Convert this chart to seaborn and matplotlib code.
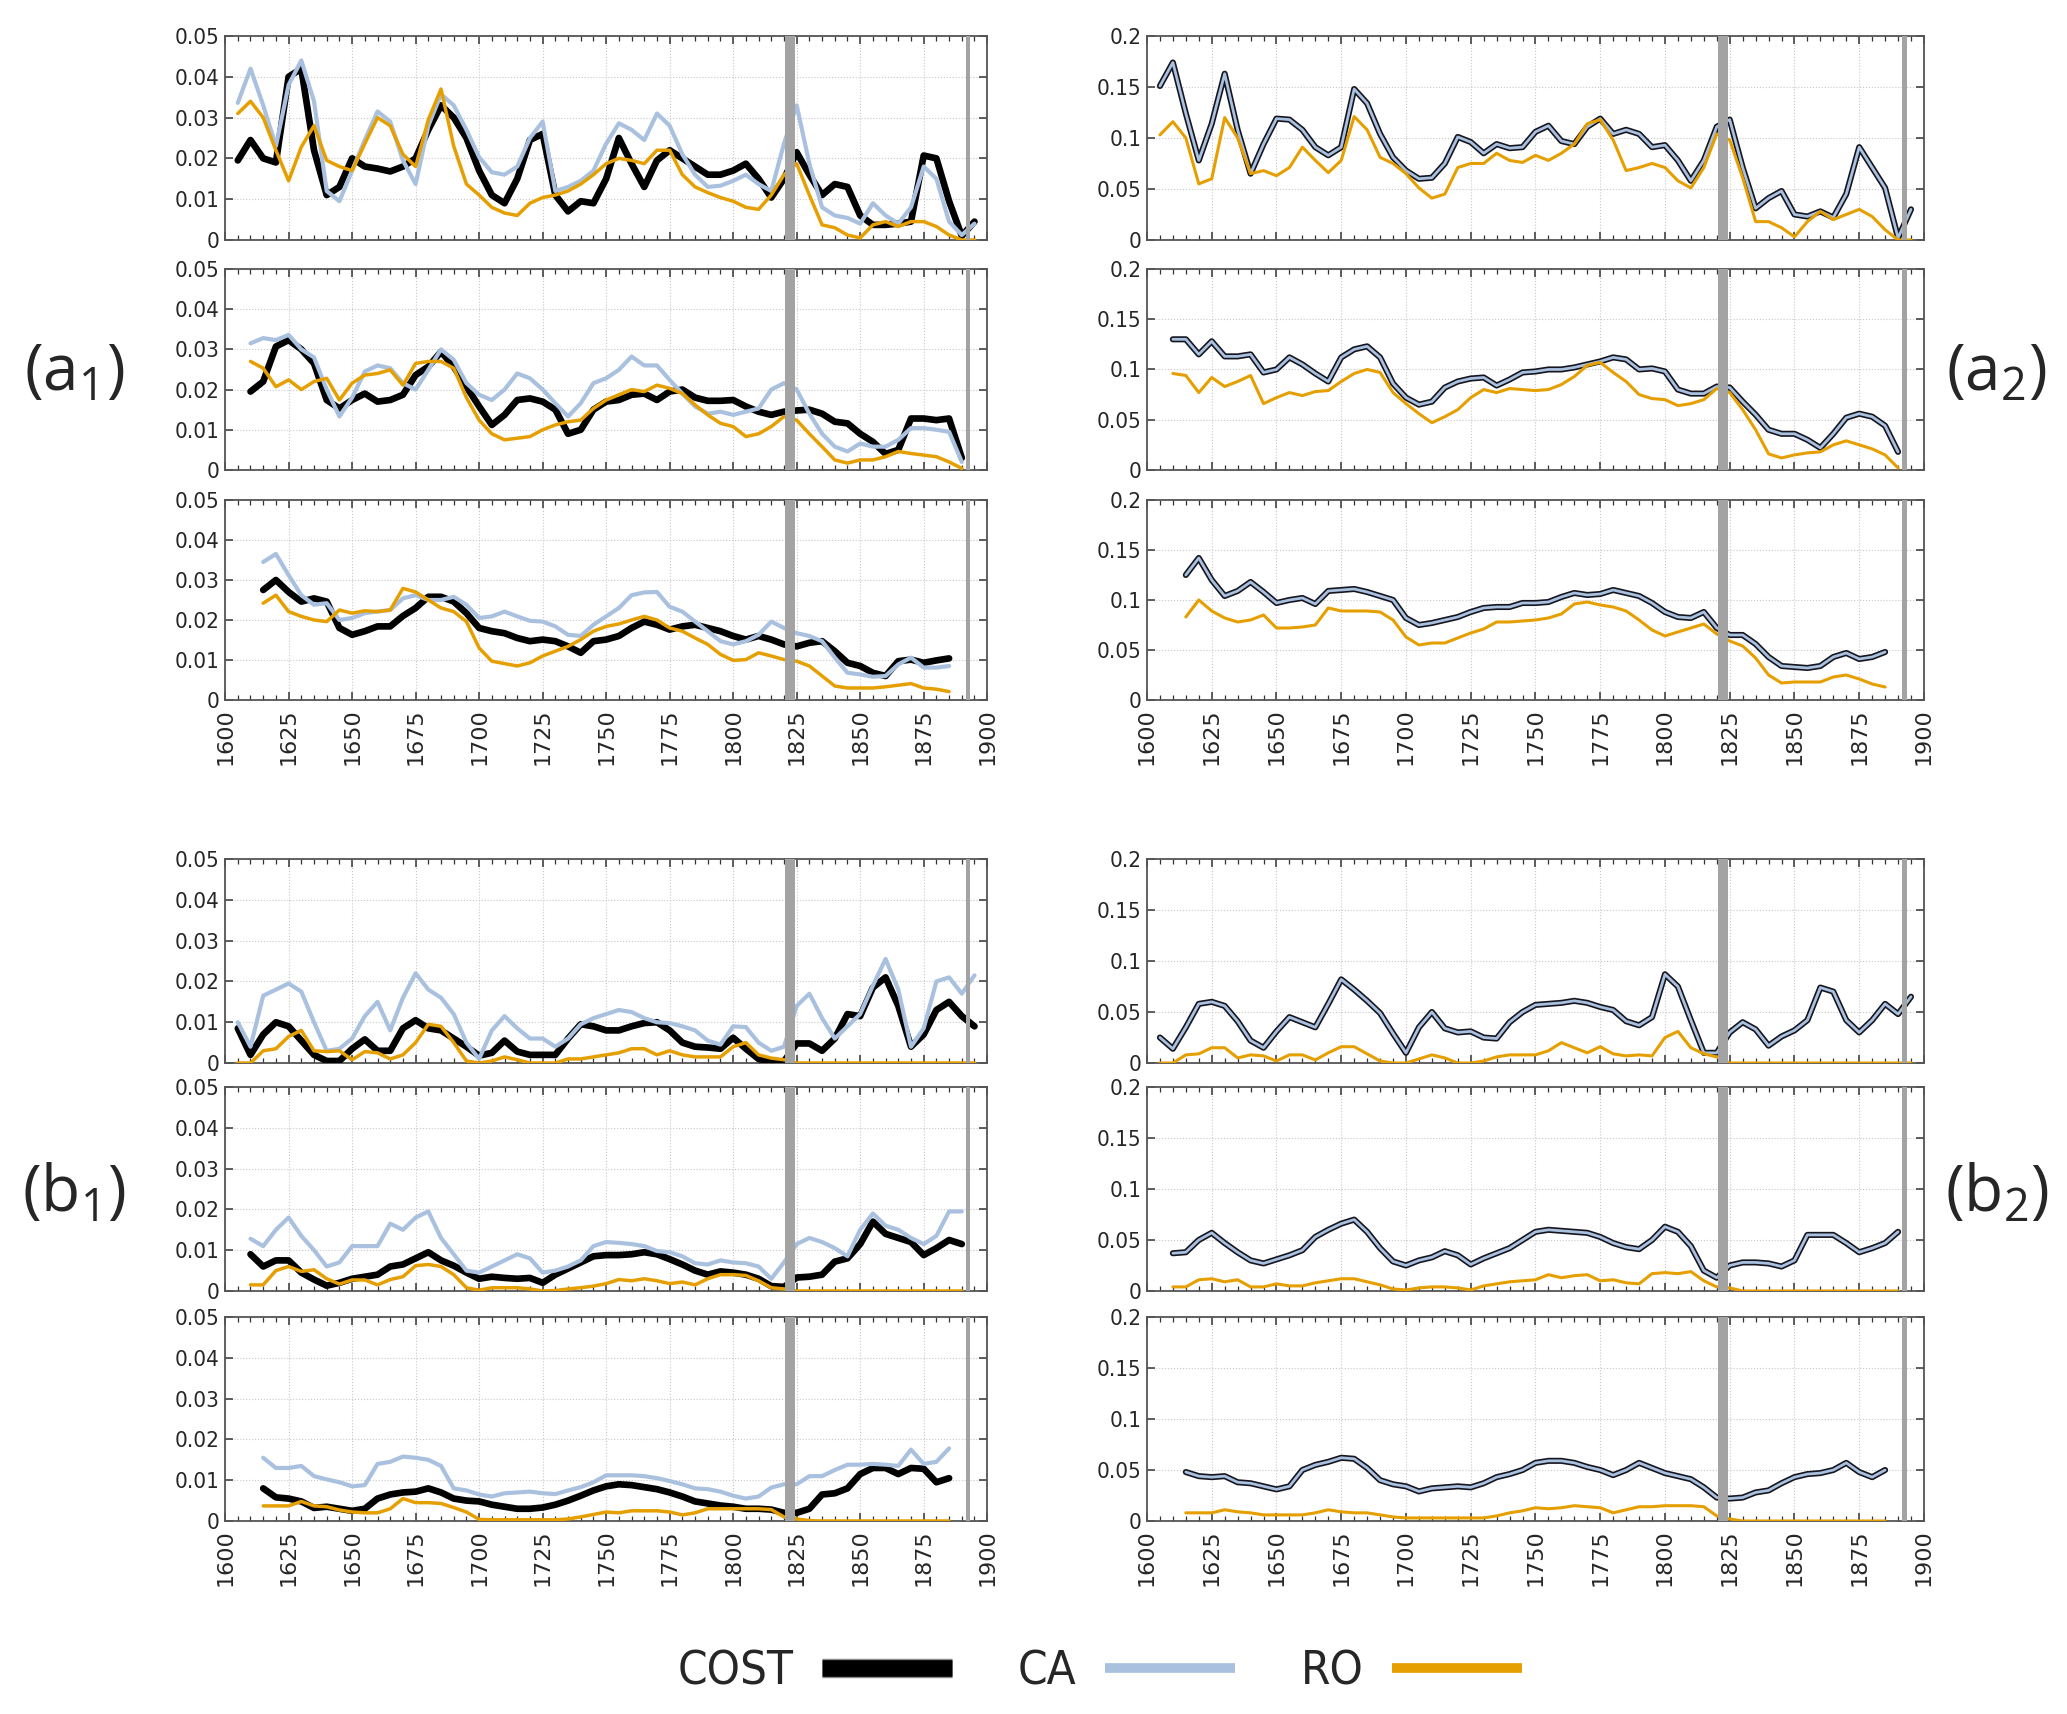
import numpy as np
import pandas as pd
import matplotlib
matplotlib.use("Agg")
import matplotlib.pyplot as plt
import matplotlib.patheffects as pe
from matplotlib.lines import Line2D
from matplotlib.ticker import MultipleLocator, FuncFormatter
import seaborn as sns

sns.set_style("ticks")
plt.rcParams['font.family'] = ['DejaVu Sans']

# x grids (every 5 years) for the three rows of each block
years_1 = list(range(1605, 1896, 5))   # 59 values
years_2 = list(range(1610, 1891, 5))   # 57 values
years_3 = list(range(1615, 1886, 5))   # 55 values

# ---------------- block (a1) ----------------
a1_top_cost = [0.0195, 0.0245, 0.020, 0.019, 0.040, 0.042, 0.022, 0.011, 0.013, 0.020,
               0.018, 0.0175, 0.0168, 0.018, 0.020, 0.027, 0.033, 0.030, 0.025, 0.017,
               0.011, 0.009, 0.015, 0.0245, 0.026, 0.011, 0.007, 0.0095, 0.009, 0.015,
               0.025, 0.0187, 0.013, 0.0195, 0.022, 0.020, 0.018, 0.016, 0.016, 0.017,
               0.0187, 0.015, 0.0104, 0.015, 0.0215, 0.016, 0.011, 0.0137, 0.013, 0.006,
               0.0037, 0.0037, 0.004, 0.0045, 0.0207, 0.020, 0.0095, 0.001, 0.0045]
a1_top_ca = [0.0336, 0.042, 0.033, 0.023, 0.038, 0.044, 0.034, 0.012, 0.0095, 0.017,
             0.0245, 0.0315, 0.029, 0.0195, 0.0137, 0.028, 0.0357, 0.033, 0.027, 0.0203,
             0.0166, 0.016, 0.018, 0.025, 0.029, 0.012, 0.013, 0.0145, 0.017, 0.0236,
             0.0286, 0.027, 0.0245, 0.031, 0.028, 0.021, 0.016, 0.013, 0.0133, 0.0145,
             0.016, 0.0137, 0.012, 0.0236, 0.033, 0.0187, 0.008, 0.006, 0.0054, 0.004,
             0.009, 0.006, 0.004, 0.008, 0.018, 0.015, 0.0045, 0.0012, 0.004]
a1_top_ro = [0.031, 0.034, 0.030, 0.022, 0.0145, 0.0228, 0.028, 0.0195, 0.018, 0.017,
             0.0236, 0.030, 0.028, 0.021, 0.018, 0.0295, 0.037, 0.023, 0.0137, 0.011,
             0.008, 0.0066, 0.006, 0.009, 0.0104, 0.011, 0.012, 0.0137, 0.016, 0.0187,
             0.020, 0.0195, 0.0187, 0.022, 0.022, 0.016, 0.013, 0.0116, 0.0104, 0.0095,
             0.008, 0.0075, 0.011, 0.016, 0.0187, 0.011, 0.0037, 0.003, 0.0012, 0.0005,
             0.0037, 0.0045, 0.0033, 0.0045, 0.0045, 0.0033, 0.0012, 0.0, 0.0]

a1_mid_cost = [0.0195, 0.022, 0.0307, 0.0323, 0.030, 0.0265, 0.0174, 0.0153, 0.0174, 0.019,
               0.017, 0.0174, 0.0187, 0.0236, 0.0257, 0.0294, 0.0257, 0.0207, 0.0158, 0.0112,
               0.0137, 0.0174, 0.0178, 0.017, 0.015, 0.009, 0.010, 0.015, 0.017, 0.0174,
               0.0187, 0.019, 0.0174, 0.0195, 0.020, 0.018, 0.0172, 0.0172, 0.0174, 0.0158,
               0.0145, 0.0137, 0.0145, 0.0148, 0.015, 0.014, 0.012, 0.0116, 0.009, 0.007,
               0.004, 0.005, 0.0128, 0.0128, 0.0124, 0.0128, 0.003]
a1_mid_ca = [0.0315, 0.0328, 0.0323, 0.0336, 0.030, 0.028, 0.020, 0.0133, 0.018, 0.0245,
             0.026, 0.0253, 0.0216, 0.020, 0.0249, 0.030, 0.0274, 0.0216, 0.0187, 0.0174,
             0.020, 0.024, 0.0228, 0.020, 0.0166, 0.0133, 0.0166, 0.0216, 0.0228, 0.0249,
             0.0282, 0.026, 0.026, 0.0224, 0.019, 0.0158, 0.014, 0.0145, 0.0137, 0.0145,
             0.0153, 0.020, 0.0216, 0.020, 0.014, 0.009, 0.0058, 0.0046, 0.0066, 0.0058,
             0.0058, 0.0075, 0.0104, 0.0104, 0.010, 0.0095, 0.002]
a1_mid_ro = [0.027, 0.0253, 0.0207, 0.0224, 0.020, 0.022, 0.0228, 0.0174, 0.0216, 0.0236,
             0.024, 0.0249, 0.0211, 0.0265, 0.027, 0.027, 0.0253, 0.018, 0.0124, 0.009,
             0.0075, 0.0079, 0.0083, 0.010, 0.0112, 0.012, 0.0124, 0.0153, 0.0174, 0.0187,
             0.020, 0.0195, 0.0211, 0.0203, 0.019, 0.0162, 0.0137, 0.0116, 0.0108, 0.0083,
             0.009, 0.0108, 0.0133, 0.0124, 0.009, 0.0058, 0.0025, 0.0017, 0.0025, 0.0025,
             0.0033, 0.0046, 0.0041, 0.0037, 0.0033, 0.002, 0.0004]

a1_low_cost = [0.0275, 0.030, 0.027, 0.0246, 0.0254, 0.0246, 0.018, 0.0163, 0.0172, 0.0184,
               0.0184, 0.021, 0.023, 0.0258, 0.0258, 0.0246, 0.0217, 0.018, 0.0172, 0.0167,
               0.0155, 0.0147, 0.0151, 0.0147, 0.0134, 0.0118, 0.0147, 0.0151, 0.016, 0.018,
               0.0196, 0.0188, 0.0176, 0.0184, 0.0188, 0.018, 0.0172, 0.016, 0.0151, 0.016,
               0.0151, 0.0139, 0.0134, 0.0143, 0.0147, 0.0122, 0.0093, 0.0085, 0.0068, 0.006,
               0.0097, 0.0101, 0.0093, 0.0099, 0.0104]
a1_low_ca = [0.0345, 0.0365, 0.0312, 0.0262, 0.0238, 0.0242, 0.020, 0.0205, 0.0217, 0.0221,
             0.0225, 0.0254, 0.0262, 0.025, 0.025, 0.0258, 0.0238, 0.0205, 0.0209, 0.0221,
             0.0209, 0.0198, 0.0196, 0.0184, 0.0163, 0.016, 0.0188, 0.0209, 0.023, 0.0262,
             0.0269, 0.027, 0.0233, 0.0221, 0.0196, 0.0172, 0.0147, 0.0139, 0.0147, 0.0163,
             0.0196, 0.018, 0.0167, 0.016, 0.0147, 0.0106, 0.0068, 0.0064, 0.0058, 0.006,
             0.0089, 0.0106, 0.0081, 0.0081, 0.0085]
a1_low_ro = [0.0242, 0.0262, 0.0221, 0.0209, 0.020, 0.0196, 0.0225, 0.0217, 0.0223, 0.0221,
             0.0225, 0.0279, 0.027, 0.025, 0.023, 0.0221, 0.0196, 0.013, 0.0097, 0.0091,
             0.0085, 0.0093, 0.011, 0.0122, 0.0134, 0.0151, 0.0172, 0.0184, 0.019, 0.020,
             0.0209, 0.020, 0.018, 0.0172, 0.0155, 0.0139, 0.0114, 0.0099, 0.0101, 0.0118,
             0.011, 0.0101, 0.0097, 0.0085, 0.006, 0.0035, 0.003, 0.003, 0.003, 0.0033,
             0.0037, 0.0041, 0.003, 0.0027, 0.0021]

# ---------------- block (a2): COST and CA coincide ----------------
a2_top_cost = [0.151, 0.174, 0.124, 0.078, 0.114, 0.163, 0.108, 0.065, 0.094, 0.119,
               0.118, 0.108, 0.091, 0.083, 0.091, 0.148, 0.134, 0.104, 0.081, 0.068,
               0.060, 0.061, 0.075, 0.101, 0.096, 0.085, 0.094, 0.090, 0.091, 0.106,
               0.112, 0.097, 0.094, 0.111, 0.119, 0.104, 0.108, 0.104, 0.091, 0.093,
               0.078, 0.058, 0.078, 0.111, 0.118, 0.071, 0.031, 0.041, 0.048, 0.025,
               0.023, 0.028, 0.022, 0.045, 0.091, 0.071, 0.051, 0.002, 0.030]
a2_top_ro = [0.103, 0.116, 0.100, 0.055, 0.060, 0.120, 0.100, 0.065, 0.068, 0.063,
             0.071, 0.091, 0.078, 0.066, 0.078, 0.121, 0.108, 0.081, 0.075, 0.065,
             0.051, 0.041, 0.045, 0.071, 0.075, 0.075, 0.085, 0.078, 0.076, 0.083,
             0.078, 0.085, 0.094, 0.114, 0.118, 0.098, 0.068, 0.071, 0.075, 0.071,
             0.058, 0.051, 0.071, 0.104, 0.098, 0.061, 0.018, 0.018, 0.012, 0.003,
             0.018, 0.028, 0.020, 0.025, 0.030, 0.023, 0.010, 0.0, 0.0]

a2_mid_cost = [0.130, 0.130, 0.115, 0.128, 0.113, 0.113, 0.115, 0.097, 0.100, 0.112,
               0.105, 0.096, 0.088, 0.112, 0.120, 0.123, 0.112, 0.086, 0.072, 0.065,
               0.068, 0.082, 0.088, 0.091, 0.092, 0.084, 0.090, 0.097, 0.098, 0.100,
               0.100, 0.102, 0.105, 0.108, 0.112, 0.110, 0.100, 0.101, 0.098, 0.080,
               0.076, 0.076, 0.083, 0.082, 0.068, 0.055, 0.040, 0.036, 0.036, 0.030,
               0.022, 0.036, 0.052, 0.056, 0.053, 0.044, 0.018]
a2_mid_ro = [0.096, 0.094, 0.077, 0.092, 0.083, 0.088, 0.094, 0.066, 0.072, 0.077,
             0.074, 0.078, 0.079, 0.088, 0.096, 0.100, 0.097, 0.077, 0.066, 0.056,
             0.047, 0.053, 0.060, 0.072, 0.080, 0.077, 0.081, 0.080, 0.079, 0.080,
             0.085, 0.093, 0.104, 0.107, 0.097, 0.088, 0.075, 0.071, 0.070, 0.064,
             0.066, 0.070, 0.081, 0.077, 0.060, 0.040, 0.016, 0.012, 0.015, 0.017,
             0.018, 0.025, 0.029, 0.025, 0.021, 0.015, 0.002]

a2_low_cost = [0.125, 0.142, 0.120, 0.104, 0.109, 0.118, 0.108, 0.097, 0.100, 0.102,
               0.096, 0.109, 0.110, 0.111, 0.108, 0.104, 0.100, 0.082, 0.075, 0.077,
               0.080, 0.083, 0.088, 0.092, 0.093, 0.093, 0.097, 0.097, 0.098, 0.103,
               0.107, 0.105, 0.106, 0.110, 0.107, 0.104, 0.097, 0.088, 0.083, 0.082,
               0.088, 0.072, 0.065, 0.065, 0.056, 0.043, 0.034, 0.033, 0.032, 0.034,
               0.043, 0.047, 0.041, 0.043, 0.048]
a2_low_ro = [0.083, 0.100, 0.089, 0.082, 0.078, 0.080, 0.085, 0.072, 0.072, 0.073,
             0.075, 0.092, 0.089, 0.089, 0.089, 0.088, 0.080, 0.063, 0.055, 0.057,
             0.057, 0.062, 0.067, 0.071, 0.078, 0.078, 0.079, 0.080, 0.082, 0.086,
             0.096, 0.098, 0.095, 0.093, 0.089, 0.080, 0.070, 0.064, 0.068, 0.072,
             0.076, 0.066, 0.059, 0.054, 0.042, 0.025, 0.017, 0.018, 0.018, 0.018,
             0.023, 0.025, 0.021, 0.016, 0.013]

# ---------------- block (b1) ----------------
b1_top_cost = [0.0085, 0.002, 0.007, 0.010, 0.009, 0.0055, 0.002, 0.0005, 0.0005, 0.0035,
               0.0058, 0.003, 0.003, 0.0085, 0.0105, 0.0085, 0.008, 0.006, 0.004, 0.0018,
               0.0025, 0.0055, 0.0028, 0.002, 0.002, 0.002, 0.006, 0.0095, 0.009, 0.008,
               0.008, 0.009, 0.0098, 0.010, 0.008, 0.005, 0.004, 0.0038, 0.0035, 0.0062,
               0.0035, 0.001, 0.0003, 0.0004, 0.0048, 0.0048, 0.003, 0.006, 0.012, 0.0115,
               0.0185, 0.021, 0.014, 0.004, 0.007, 0.013, 0.015, 0.0115, 0.009]
b1_top_ca = [0.010, 0.004, 0.0165, 0.018, 0.0195, 0.0175, 0.010, 0.003, 0.0035, 0.006,
             0.0115, 0.015, 0.008, 0.016, 0.022, 0.018, 0.016, 0.012, 0.005, 0.001,
             0.008, 0.0115, 0.0085, 0.006, 0.006, 0.004, 0.006, 0.0095, 0.011, 0.012,
             0.013, 0.0125, 0.011, 0.010, 0.0098, 0.009, 0.008, 0.0055, 0.0045, 0.009,
             0.0088, 0.005, 0.003, 0.004, 0.014, 0.017, 0.011, 0.006, 0.009, 0.012,
             0.019, 0.0255, 0.018, 0.004, 0.0085, 0.020, 0.021, 0.017, 0.0215]
b1_top_ro = [0.0, 0.0, 0.003, 0.0035, 0.0065, 0.008, 0.003, 0.0028, 0.003, 0.0008,
             0.0028, 0.0025, 0.001, 0.002, 0.005, 0.0095, 0.009, 0.005, 0.0005, 0.0,
             0.0005, 0.0015, 0.0008, 0.0, 0.0, 0.0, 0.001, 0.001, 0.0015, 0.002,
             0.0025, 0.0035, 0.0035, 0.002, 0.003, 0.002, 0.0015, 0.0015, 0.0015, 0.004,
             0.005, 0.002, 0.0012, 0.0008, 0.0, 0.0, 0.0, 0.0, 0.0, 0.0,
             0.0, 0.0, 0.0, 0.0, 0.0, 0.0, 0.0, 0.0, 0.0]

b1_mid_cost = [0.009, 0.006, 0.0075, 0.0075, 0.0045, 0.0028, 0.0013, 0.002, 0.003, 0.0035,
               0.004, 0.006, 0.0065, 0.008, 0.0095, 0.0075, 0.0062, 0.0045, 0.003, 0.0035,
               0.0032, 0.003, 0.0032, 0.002, 0.004, 0.0055, 0.007, 0.0085, 0.0088, 0.0088,
               0.009, 0.0095, 0.009, 0.0078, 0.0065, 0.005, 0.004, 0.0048, 0.0045, 0.004,
               0.003, 0.0012, 0.001, 0.0033, 0.0035, 0.004, 0.0072, 0.008, 0.0115, 0.017,
               0.014, 0.013, 0.012, 0.0088, 0.0105, 0.0125, 0.0115]
b1_mid_ca = [0.0128, 0.011, 0.015, 0.018, 0.0135, 0.010, 0.006, 0.007, 0.011, 0.011,
             0.011, 0.0165, 0.015, 0.018, 0.0195, 0.013, 0.009, 0.005, 0.0045, 0.006,
             0.0075, 0.009, 0.008, 0.0045, 0.005, 0.006, 0.0075, 0.011, 0.012, 0.0118,
             0.0115, 0.011, 0.0098, 0.0095, 0.0085, 0.0068, 0.0065, 0.0075, 0.007, 0.0068,
             0.006, 0.003, 0.007, 0.0115, 0.013, 0.012, 0.0105, 0.0085, 0.015, 0.019,
             0.016, 0.015, 0.013, 0.0115, 0.0135, 0.0195, 0.0195]
b1_mid_ro = [0.0015, 0.0015, 0.005, 0.006, 0.0048, 0.0052, 0.003, 0.0017, 0.0027, 0.0027,
             0.0015, 0.0028, 0.0035, 0.0062, 0.0065, 0.006, 0.004, 0.0008, 0.0002, 0.0008,
             0.0008, 0.0008, 0.0005, 0.0, 0.0001, 0.0005, 0.0008, 0.0012, 0.0018, 0.0028,
             0.0025, 0.003, 0.0025, 0.0018, 0.0022, 0.0015, 0.003, 0.004, 0.004, 0.0038,
             0.0025, 0.0008, 0.0005, 0.0, 0.0, 0.0, 0.0, 0.0, 0.0, 0.0,
             0.0, 0.0, 0.0, 0.0, 0.0, 0.0, 0.0]

b1_low_cost = [0.008, 0.0058, 0.0055, 0.0048, 0.0032, 0.0035, 0.003, 0.0025, 0.003, 0.0055,
               0.0065, 0.007, 0.0072, 0.008, 0.007, 0.0055, 0.005, 0.0048, 0.004, 0.0035,
               0.003, 0.003, 0.0033, 0.004, 0.005, 0.0062, 0.0075, 0.0085, 0.009, 0.0088,
               0.0083, 0.0078, 0.007, 0.006, 0.0048, 0.0043, 0.0038, 0.0035, 0.003, 0.003,
               0.0028, 0.002, 0.002, 0.003, 0.0065, 0.0068, 0.008, 0.0115, 0.013, 0.013,
               0.0115, 0.013, 0.0128, 0.0095, 0.0105]
b1_low_ca = [0.0155, 0.013, 0.013, 0.0135, 0.011, 0.0102, 0.0095, 0.0085, 0.0088, 0.014,
             0.0145, 0.0158, 0.0155, 0.015, 0.0135, 0.008, 0.0075, 0.0065, 0.006, 0.0068,
             0.007, 0.0072, 0.0068, 0.0066, 0.0075, 0.0083, 0.0095, 0.0112, 0.0112, 0.0112,
             0.011, 0.0105, 0.0098, 0.009, 0.008, 0.0078, 0.0072, 0.0062, 0.0055, 0.006,
             0.0082, 0.009, 0.009, 0.011, 0.011, 0.0125, 0.0138, 0.0138, 0.014, 0.0138,
             0.0135, 0.0175, 0.014, 0.0145, 0.0178]
b1_low_ro = [0.0037, 0.0037, 0.0037, 0.0048, 0.0037, 0.0035, 0.0027, 0.0022, 0.002, 0.002,
             0.003, 0.0055, 0.0045, 0.0045, 0.0043, 0.0033, 0.0022, 0.0004, 0.0003, 0.0003,
             0.0003, 0.0003, 0.0003, 0.0003, 0.0005, 0.001, 0.0016, 0.0022, 0.002, 0.0025,
             0.0025, 0.0025, 0.0022, 0.0015, 0.002, 0.003, 0.003, 0.003, 0.003, 0.003,
             0.0028, 0.001, 0.0005, 0.0001, 0.0, 0.0, 0.0, 0.0, 0.0, 0.0,
             0.0, 0.0, 0.0, 0.0, 0.0]

# ---------------- block (b2): COST and CA coincide ----------------
b2_top_cost = [0.025, 0.014, 0.035, 0.058, 0.060, 0.056, 0.041, 0.022, 0.015, 0.031,
               0.045, 0.040, 0.035, 0.058, 0.082, 0.072, 0.061, 0.049, 0.029, 0.010,
               0.035, 0.050, 0.034, 0.030, 0.031, 0.025, 0.024, 0.040, 0.050, 0.057,
               0.058, 0.059, 0.061, 0.059, 0.055, 0.052, 0.041, 0.037, 0.045, 0.087,
               0.075, 0.042, 0.010, 0.010, 0.030, 0.040, 0.033, 0.017, 0.026, 0.032,
               0.042, 0.074, 0.070, 0.042, 0.030, 0.042, 0.058, 0.048, 0.065]
b2_top_ro = [0.0, 0.0, 0.008, 0.009, 0.015, 0.015, 0.005, 0.008, 0.007, 0.002,
             0.008, 0.008, 0.003, 0.010, 0.016, 0.016, 0.009, 0.002, 0.0, 0.0,
             0.004, 0.008, 0.005, 0.0, 0.0, 0.002, 0.006, 0.008, 0.008, 0.008,
             0.012, 0.020, 0.015, 0.010, 0.016, 0.009, 0.007, 0.008, 0.007, 0.025,
             0.031, 0.015, 0.009, 0.006, 0.0, 0.0, 0.0, 0.0, 0.0, 0.0,
             0.0, 0.0, 0.0, 0.0, 0.0, 0.0, 0.0, 0.0, 0.0]

b2_mid_cost = [0.037, 0.038, 0.050, 0.057, 0.047, 0.038, 0.030, 0.027, 0.031, 0.035,
               0.040, 0.053, 0.060, 0.066, 0.070, 0.058, 0.042, 0.029, 0.025, 0.030,
               0.033, 0.039, 0.035, 0.026, 0.032, 0.037, 0.042, 0.050, 0.058, 0.060,
               0.059, 0.058, 0.057, 0.053, 0.047, 0.043, 0.041, 0.050, 0.063, 0.058,
               0.044, 0.020, 0.013, 0.025, 0.028, 0.028, 0.027, 0.024, 0.030, 0.055,
               0.055, 0.055, 0.047, 0.038, 0.042, 0.047, 0.058]
b2_mid_ro = [0.004, 0.004, 0.011, 0.012, 0.009, 0.011, 0.004, 0.004, 0.007, 0.005,
             0.005, 0.008, 0.010, 0.012, 0.012, 0.009, 0.006, 0.002, 0.001, 0.003,
             0.004, 0.004, 0.003, 0.001, 0.005, 0.007, 0.009, 0.010, 0.011, 0.016,
             0.013, 0.015, 0.016, 0.010, 0.011, 0.008, 0.007, 0.017, 0.018, 0.017,
             0.019, 0.010, 0.004, 0.003, 0.0, 0.0, 0.0, 0.0, 0.0, 0.0,
             0.0, 0.0, 0.0, 0.0, 0.0, 0.0, 0.0]

b2_low_cost = [0.048, 0.044, 0.043, 0.044, 0.038, 0.037, 0.034, 0.031, 0.034, 0.050,
               0.055, 0.058, 0.062, 0.061, 0.052, 0.040, 0.036, 0.034, 0.029, 0.032,
               0.033, 0.034, 0.033, 0.037, 0.043, 0.046, 0.050, 0.057, 0.059, 0.059,
               0.057, 0.053, 0.050, 0.045, 0.050, 0.057, 0.052, 0.047, 0.044, 0.041,
               0.033, 0.023, 0.022, 0.023, 0.028, 0.030, 0.037, 0.043, 0.046, 0.047,
               0.050, 0.057, 0.048, 0.043, 0.050]
b2_low_ro = [0.008, 0.008, 0.008, 0.011, 0.009, 0.008, 0.006, 0.006, 0.006, 0.006,
             0.008, 0.011, 0.009, 0.008, 0.008, 0.006, 0.004, 0.003, 0.003, 0.003,
             0.003, 0.003, 0.003, 0.003, 0.005, 0.008, 0.010, 0.013, 0.012, 0.013,
             0.015, 0.014, 0.013, 0.008, 0.011, 0.014, 0.014, 0.015, 0.015, 0.015,
             0.014, 0.005, 0.002, 0.0, 0.0, 0.0, 0.0, 0.0, 0.0, 0.0,
             0.0, 0.0, 0.0, 0.0, 0.0]

COST_C = "#000000"
CA_C = "#a9c1df"
RO_C = "#e69f00"
BAND_C = "#a3a3a3"

fig = plt.figure(figsize=(20.67, 17.14), dpi=100)

LEFT = (0.1089, 0.3687)
RIGHT = (0.5549, 0.3759)
ROWS = [(0.8600, 0.1190), (0.7258, 0.1173), (0.5916, 0.1167),
        (0.3798, 0.1190), (0.2468, 0.1190), (0.1126, 0.1190)]

# (row, column, years, cost, ca, ro)
panels = [
    (0, LEFT, years_1, a1_top_cost, a1_top_ca, a1_top_ro),
    (1, LEFT, years_2, a1_mid_cost, a1_mid_ca, a1_mid_ro),
    (2, LEFT, years_3, a1_low_cost, a1_low_ca, a1_low_ro),
    (0, RIGHT, years_1, a2_top_cost, a2_top_cost, a2_top_ro),
    (1, RIGHT, years_2, a2_mid_cost, a2_mid_cost, a2_mid_ro),
    (2, RIGHT, years_3, a2_low_cost, a2_low_cost, a2_low_ro),
    (3, LEFT, years_1, b1_top_cost, b1_top_ca, b1_top_ro),
    (4, LEFT, years_2, b1_mid_cost, b1_mid_ca, b1_mid_ro),
    (5, LEFT, years_3, b1_low_cost, b1_low_ca, b1_low_ro),
    (3, RIGHT, years_1, b2_top_cost, b2_top_cost, b2_top_ro),
    (4, RIGHT, years_2, b2_mid_cost, b2_mid_cost, b2_mid_ro),
    (5, RIGHT, years_3, b2_low_cost, b2_low_cost, b2_low_ro),
]

fmt = FuncFormatter(lambda v, p: "%g" % round(v, 4))

for row, col, yrs, cost, ca, ro in panels:
    ax = fig.add_axes([col[0], ROWS[row][0], col[1], ROWS[row][1]])
    right = col is RIGHT
    df = pd.DataFrame({"year": yrs, "COST": cost, "CA": ca, "RO": ro})
    if right:
        sns.lineplot(data=df, x="year", y="COST", ax=ax, color="#15151f", linewidth=4.4, zorder=3)
        sns.lineplot(data=df, x="year", y="CA", ax=ax, color=CA_C, linewidth=2.0, zorder=4)
        sns.lineplot(data=df, x="year", y="RO", ax=ax, color=RO_C, linewidth=2.2, zorder=5)
        ymax, ystep = 0.2, 0.05
    else:
        sns.lineplot(data=df, x="year", y="COST", ax=ax, color=COST_C, linewidth=4.8, zorder=3)
        sns.lineplot(data=df, x="year", y="CA", ax=ax, color=CA_C, linewidth=3.0, zorder=4)
        sns.lineplot(data=df, x="year", y="RO", ax=ax, color=RO_C, linewidth=2.5, zorder=5)
        ymax, ystep = 0.05, 0.01
    ax.axvspan(1820.4, 1824.2, color=BAND_C, lw=0, zorder=6)
    ax.axvspan(1891.6, 1893.4, color=BAND_C, lw=0, zorder=6)
    ax.set_xlim(1600, 1900)
    ax.set_ylim(0, ymax)
    ax.set_xlabel("")
    ax.set_ylabel("")
    ax.xaxis.set_major_locator(MultipleLocator(25))
    ax.xaxis.set_minor_locator(MultipleLocator(5))
    ax.yaxis.set_major_locator(MultipleLocator(ystep))
    ax.yaxis.set_major_formatter(fmt)
    ax.grid(True, which="major", ls=":", lw=0.8, color="#c8c8c8")
    ax.set_axisbelow(True)
    for s in ax.spines.values():
        s.set_visible(True)
        s.set_color("#555555")
        s.set_linewidth(1.3)
    ax.tick_params(which="both", direction="in", top=True, right=True, color="#333333")
    ax.tick_params(which="major", length=6, width=1.1)
    ax.tick_params(which="minor", length=3.5, width=0.9)
    ax.tick_params(axis="y", labelsize=16, pad=4)
    for t in ax.get_yticklabels():
        t.set_fontstretch("condensed")
    if row in (2, 5):
        ax.tick_params(axis="x", labelsize=16, labelrotation=90, pad=6)
    else:
        ax.tick_params(axis="x", labelbottom=False)

# panel labels
lab = dict(fontsize=46, ha="center", va="center", family=["Open Sans", "DejaVu Sans"])
fig.text(0.036, 0.782, r"(a$_{\mathregular{1}}$)", **lab)
fig.text(0.966, 0.782, r"(a$_{\mathregular{2}}$)", **lab)
fig.text(0.036, 0.303, r"(b$_{\mathregular{1}}$)", **lab)
fig.text(0.966, 0.303, r"(b$_{\mathregular{2}}$)", **lab)

# legend: label first, then swatch
handles = [
    Line2D([], [], color=COST_C, lw=12, solid_capstyle="butt",
           path_effects=[pe.Stroke(linewidth=14, foreground="#8a8a8a"), pe.Normal()]),
    Line2D([], [], color=CA_C, lw=7, solid_capstyle="butt"),
    Line2D([], [], color=RO_C, lw=7, solid_capstyle="butt"),
]
fig.legend(handles, ["COST", "CA", "RO"], loc="center", bbox_to_anchor=(0.532, 0.0245),
           ncol=3, frameon=False, markerfirst=False, handlelength=2.75,
           handletextpad=0.6, columnspacing=1.4,
           prop={"family": "DejaVu Sans", "stretch": "condensed", "size": 34})

fig.savefig("out.png", dpi=100)
